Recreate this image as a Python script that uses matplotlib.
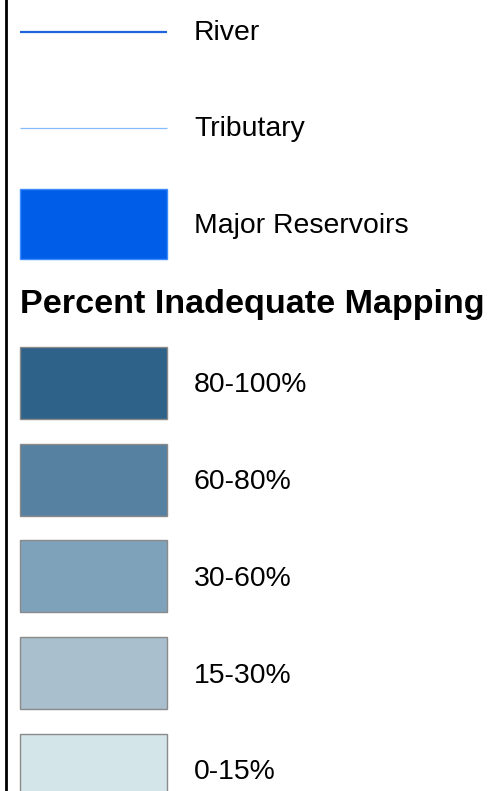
import matplotlib.pyplot as plt
from matplotlib.patches import Rectangle

# Legend content
line_labels = ['River', 'Tributary']
line_colors = ['#1f64dc', '#86baff']
line_widths = [1.6, 0.9]
reservoir_label = 'Major Reservoirs'
reservoir_color = '#005de8'
reservoir_edge = '#3d8cff'
title = 'Percent Inadequate Mapping'
class_labels = ['80-100%', '60-80%', '30-60%', '15-30%', '0-15%']
class_colors = ['#2e6289', '#5781a1', '#7fa2bb', '#a9bfce', '#d4e5e9']

W, H = 491, 791
fig = plt.figure(figsize=(W / 100, H / 100), dpi=100)
ax = fig.add_axes([0, 0, 1, 1])
ax.set_xlim(0, W)
ax.set_ylim(H, 0)
ax.axis('off')

plt.rcParams['font.family'] = ['Liberation Sans', 'DejaVu Sans']
label_size = 20.4

# left frame line
ax.plot([6, 6], [0, H], color='black', lw=2)

x0, x1, xt = 20, 167, 194
for i, (lab, c, lw) in enumerate(zip(line_labels, line_colors, line_widths)):
    y = 32 + i * 96
    ax.plot([x0, x1], [y, y], color=c, lw=lw, solid_capstyle='butt')
    ax.text(xt, y + 1, lab, fontsize=label_size, va='center', ha='left')

ax.add_patch(Rectangle((x0, 189), x1 - x0, 70, facecolor=reservoir_color,
                       edgecolor=reservoir_edge, lw=1))
ax.text(xt, 226, reservoir_label, fontsize=label_size, va='center', ha='left')

ax.text(20, 305, title, fontsize=24.6, fontweight='bold', va='center', ha='left')

for i, (lab, c) in enumerate(zip(class_labels, class_colors)):
    top = 347 + i * 96.7
    ax.add_patch(Rectangle((x0, top), x1 - x0, 72, facecolor=c,
                           edgecolor='#8a8a8a', lw=1))
    ax.text(xt, top + 38.5, lab, fontsize=label_size, va='center', ha='left')

plt.savefig('out.png', dpi=100)
